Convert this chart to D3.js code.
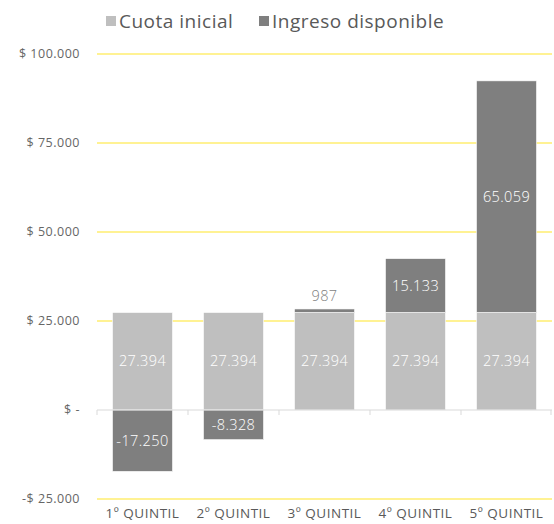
<!DOCTYPE html>
<html>
<head>
<meta charset="utf-8">
<script src="https://cdn.jsdelivr.net/npm/d3@7"></script>
<style>
  html, body { margin: 0; padding: 0; background: #fff; }
  svg { display: block; font-family: "Open Sans", "Noto Sans", sans-serif; }
</style>
</head>
<body>
<svg id="chart" width="554" height="524"></svg>
<script>
const categories = ["1º QUINTIL", "2º QUINTIL", "3º QUINTIL", "4º QUINTIL", "5º QUINTIL"];
const cuotaInicial = [27394, 27394, 27394, 27394, 27394];
const ingresoDisponible = [-17250, -8328, 987, 15133, 65059];
const yTicks = [-25000, 0, 25000, 50000, 75000, 100000];
const seriesNames = ["Cuota inicial", "Ingreso disponible"];
const seriesColors = ["#BFBFBF", "#7F7F7F"];

const svg = d3.select("#chart");
const margin = { left: 97, right: 2, top: 54, bottom: 25 };
const W = 554, H = 524;

const x = d3.scaleBand().domain(categories).range([margin.left, W - margin.right]).paddingInner(0.34).paddingOuter(0.17);
const y = d3.scaleLinear().domain([-25000, 100000]).range([H - margin.bottom, margin.top]);

// thousands separated by dots, plain hyphen for negatives
const fmt = v => (v < 0 ? "-" : "") + d3.format(",")(Math.abs(v)).replace(/,/g, ".");
const tickFmt = v => v === 0 ? "$ -" : (v < 0 ? "-$ " + fmt(-v) : "$ " + fmt(v));

// horizontal gridlines
svg.append("g").selectAll("line").data(yTicks.filter(t => t !== 0)).join("line")
  .attr("x1", margin.left).attr("x2", W - margin.right)
  .attr("y1", d => y(d)).attr("y2", d => y(d))
  .attr("stroke", "#FFE629").attr("stroke-width", 1.2);

// y axis labels
svg.append("g").selectAll("text").data(yTicks).join("text")
  .attr("x", 80).attr("y", d => y(d)).attr("dy", "0.35em")
  .attr("text-anchor", "end").attr("font-size", 12.5).attr("letter-spacing", 0.5)
  .attr("fill", "#666")
  .text(tickFmt);

// stacked bars: positive values stack upward, negatives downward from zero
const rows = categories.map((c, i) => {
  const a = cuotaInicial[i], b = ingresoDisponible[i];
  const segA = { cat: c, s: 0, y0: 0, y1: a, v: a };
  const segB = b >= 0 ? { cat: c, s: 1, y0: a, y1: a + b, v: b } : { cat: c, s: 1, y0: b, y1: 0, v: b };
  return [segA, segB];
}).flat();

svg.append("g").selectAll("rect").data(rows).join("rect")
  .attr("x", d => x(d.cat)).attr("width", x.bandwidth())
  .attr("y", d => y(d.y1)).attr("height", d => y(d.y0) - y(d.y1))
  .attr("fill", d => seriesColors[d.s])
  .attr("stroke", "#fff").attr("stroke-width", 0.6);

// zero axis line with category ticks
svg.append("line").attr("x1", margin.left).attr("x2", W - margin.right)
  .attr("y1", y(0)).attr("y2", y(0)).attr("stroke", "#D9D9D9").attr("stroke-width", 1);
const bounds = categories.map(c => x(c) - x.step() * x.paddingInner() / 2);
bounds[0] = margin.left;
bounds.push(W - margin.right - 1);
svg.append("g").selectAll("line").data(bounds).join("line")
  .attr("x1", d => d).attr("x2", d => d).attr("y1", y(0)).attr("y2", y(0) + 5)
  .attr("stroke", "#D9D9D9");

// value labels
const small = d => Math.abs(y(d.y0) - y(d.y1)) < 20;
svg.append("g").selectAll("text").data(rows).join("text")
  .attr("x", d => x(d.cat) + x.bandwidth() / 2)
  .attr("y", d => small(d) ? y(d.y1) - 13 : (y(d.y0) + y(d.y1)) / 2)
  .attr("dy", "0.35em").attr("text-anchor", "middle").attr("font-size", 14.5)
  .attr("letter-spacing", 0.4).attr("font-weight", 300)
  .attr("fill", d => small(d) ? "#7F7F7F" : "#fff")
  .text(d => fmt(d.v));

// category labels
svg.append("g").selectAll("text").data(categories).join("text")
  .attr("x", d => x(d) + x.bandwidth() / 2).attr("y", 518)
  .attr("text-anchor", "middle").attr("font-size", 13.5).attr("letter-spacing", 0.5)
  .attr("fill", "#595959")
  .text(d => d);

// legend
const legendX = [106, 259];
const lg = svg.append("g").selectAll("g").data(seriesNames).join("g")
  .attr("transform", (d, i) => `translate(${legendX[i]},21)`);
lg.append("rect").attr("x", 0).attr("y", -5).attr("width", 10).attr("height", 10)
  .attr("fill", (d, i) => seriesColors[i]);
lg.append("text").attr("x", 13).attr("dy", "0.35em").attr("font-size", 19)
  .attr("letter-spacing", 0.5).attr("fill", "#595959")
  .text(d => d);
</script>
</body>
</html>
